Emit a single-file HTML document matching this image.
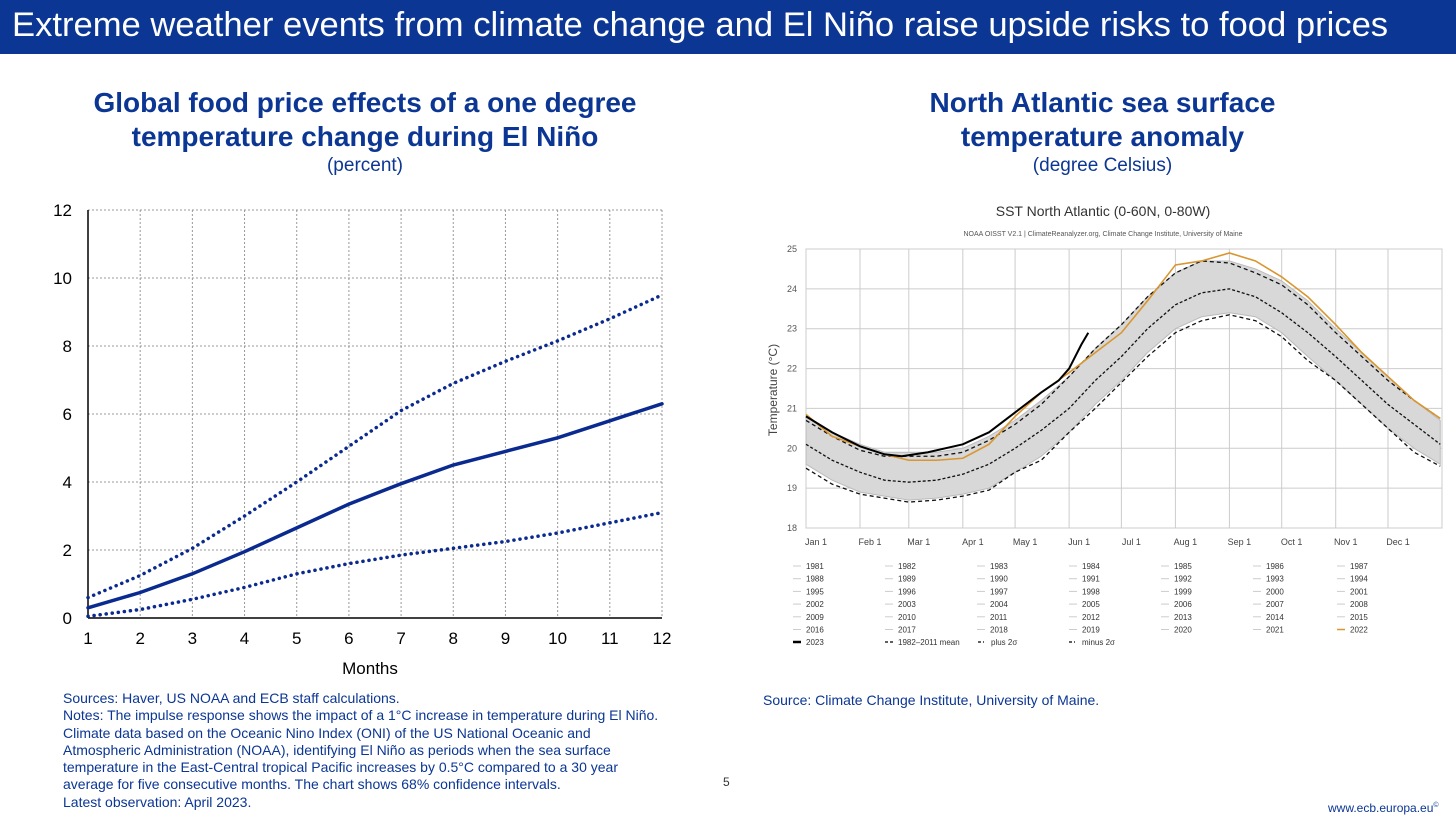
<!DOCTYPE html>
<html><head><meta charset="utf-8">
<style>
body{margin:0;width:1456px;height:820px;background:#fff;font-family:"Liberation Sans",sans-serif;position:relative;overflow:hidden}
.abs{position:absolute}
.hdr{left:0;top:0;width:1456px;height:54px;background:#0b3694;color:#fff;font-size:34.6px;line-height:50px;padding-left:12px;box-sizing:border-box;white-space:nowrap}
.t{color:#0b3694;text-align:center;font-weight:bold;font-size:28px;line-height:34px;white-space:nowrap}
.st{color:#0b3694;text-align:center;font-size:19px}
.note{color:#0b3694;font-size:14px;line-height:17.3px}
</style></head><body>
<div class="abs hdr">Extreme weather events from climate change and El Niño raise upside risks to food prices</div>
<div class="abs t" style="left:40px;top:86px;width:650px">Global food price effects of a one degree<br>temperature change during El Niño</div>
<div class="abs st" style="left:40px;top:155px;width:650px">(percent)</div>
<div class="abs t" style="left:850px;top:86px;width:505px">North Atlantic sea surface<br>temperature anomaly</div>
<div class="abs st" style="left:850px;top:155px;width:505px">(degree Celsius)</div>

<svg class="abs" style="left:0;top:0" width="1456" height="820" id="svg"></svg>

<div class="abs note" style="left:63px;top:690px">Sources: Haver, US NOAA and ECB staff calculations.<br>Notes: The impulse response shows the impact of a 1°C increase in temperature during El Niño.<br>Climate data based on the Oceanic Nino Index (ONI) of the US National Oceanic and<br>Atmospheric Administration (NOAA), identifying El Niño as periods when the sea surface<br>temperature in the East-Central tropical Pacific increases by 0.5°C compared to a 30 year<br>average for five consecutive months. The chart shows 68% confidence intervals.<br>Latest observation: April 2023.</div>
<div class="abs note" style="left:763px;top:692px">Source: Climate Change Institute, University of Maine.</div>
<div class="abs" style="left:723px;top:775px;font-size:12px;color:#333">5</div>
<div class="abs" style="left:1328px;top:801px;font-size:12px;color:#0b3694">www.ecb.europa.eu<sup style="font-size:7px">©</sup></div>

<script>
// Left chart data
const months=[1,2,3,4,5,6,7,8,9,10,11,12];
const central=[0.3,0.75,1.3,1.95,2.65,3.35,3.95,4.5,4.9,5.3,5.8,6.3];
const upper=[0.6,1.25,2.05,3.0,4.0,5.05,6.1,6.9,7.55,8.15,8.8,9.5];
const lower=[0.05,0.25,0.55,0.9,1.3,1.6,1.85,2.05,2.25,2.5,2.8,3.1];
const yTicksL=[0,2,4,6,8,10,12];
// Right chart data (day of year, °C)
const days=[0,15,31,45,59,75,90,105,120,135,151,166,181,196,212,227,243,258,273,288,304,319,334,349,364];
const mean=[20.1,19.7,19.4,19.2,19.15,19.2,19.35,19.6,20.0,20.45,21.0,21.7,22.3,23.0,23.6,23.9,24.0,23.8,23.4,22.9,22.3,21.7,21.1,20.6,20.1];
const plus2=[20.7,20.3,19.95,19.8,19.8,19.8,19.9,20.2,20.6,21.1,21.8,22.5,23.1,23.8,24.4,24.7,24.65,24.4,24.1,23.6,22.9,22.3,21.7,21.2,20.75];
const minus2=[19.5,19.1,18.85,18.75,18.65,18.7,18.8,18.95,19.4,19.7,20.4,21.0,21.65,22.3,22.9,23.2,23.35,23.2,22.8,22.2,21.7,21.1,20.5,19.9,19.55];
const bandHi=[20.8,20.4,20.1,19.9,19.9,19.9,20.0,20.3,20.7,21.2,21.8,22.5,23.1,23.8,24.4,24.7,24.7,24.5,24.2,23.7,23.0,22.4,21.8,21.2,20.7];
const bandLo=[19.6,19.2,18.9,18.8,18.7,18.75,18.85,19.0,19.4,19.8,20.4,21.1,21.7,22.4,23.0,23.3,23.4,23.3,22.9,22.3,21.7,21.1,20.5,20.0,19.6];
const y2022=[20.85,20.3,20.05,19.85,19.7,19.7,19.75,20.1,20.8,21.4,21.9,22.4,22.9,23.7,24.6,24.7,24.9,24.7,24.3,23.8,23.1,22.4,21.8,21.2,20.75];
const days2023=[0,15,31,45,55,70,90,105,120,135,145,151,158,162];
const y2023=[20.8,20.4,20.05,19.85,19.8,19.9,20.1,20.4,20.9,21.4,21.7,22.0,22.6,22.9];
const yTicksR=[18,19,20,21,22,23,24,25];
const monthLabels=["Jan 1","Feb 1","Mar 1","Apr 1","May 1","Jun 1","Jul 1","Aug 1","Sep 1","Oct 1","Nov 1","Dec 1"];
const monthDays=[0,31,59,90,120,151,181,212,243,273,304,334];

const NS="http://www.w3.org/2000/svg";
const svg=document.getElementById('svg');
function mk(tag,attrs,parent){const e=document.createElementNS(NS,tag);for(const k in attrs)e.setAttribute(k,attrs[k]);(parent||svg).appendChild(e);return e;}
// Left axes
const lx=m=>88+(m-1)*(662-88)/11, ly=v=>618-v*(618-210)/12;
for(const t of yTicksL){
  if(t>0){const g=mk('line',{x1:88,x2:662,y1:ly(t),y2:ly(t),stroke:'#999','stroke-dasharray':'2,2'});
  
  }
  const tx=mk('text',{x:72,y:ly(t)+6,'font-size':17,'text-anchor':'end',fill:'#000'});tx.textContent=t;
  
  
}
for(const m of months){
  if(m>1){const g=mk('line',{x1:lx(m),x2:lx(m),y1:210,y2:618,stroke:'#999','stroke-dasharray':'2,2'});
  
  }
  const tx=mk('text',{x:lx(m),y:644,'font-size':17,'text-anchor':'middle',fill:'#000'});tx.textContent=m;
  
  
}
let a=mk('line',{x1:88,x2:88,y1:210,y2:618,stroke:'#000','stroke-width':1.5});


a=mk('line',{x1:88,x2:662,y1:618,y2:618,stroke:'#000','stroke-width':1.5});


a=mk('text',{x:370,y:674,'font-size':17,'text-anchor':'middle'});a.textContent='Months';


function lineL(vals,dash,w,name){const p=mk('polyline',{points:vals.map((v,i)=>lx(months[i])+','+ly(v)).join(' '),fill:'none',stroke:'#0b2a8f','stroke-width':w,'stroke-dasharray':dash,'stroke-linecap':'round'});

}
lineL(upper,'0.1,6',3.5,'upper-bound-line');
lineL(lower,'0.1,6',3.5,'lower-bound-line');
lineL(central,'none',3.5,'central-estimate-line');

// Right chart
const rx=d=>806+d*(1442-806)/365, ry=v=>528-(v-18)*(528-249)/7;
a=mk('rect',{x:806,y:249,width:636,height:279,fill:'#fff',stroke:'#ccc'});


for(const t of yTicksR){
  const g=mk('line',{x1:806,x2:1442,y1:ry(t),y2:ry(t),stroke:'#ccc'});
  
  
  const tx=mk('text',{x:797,y:ry(t)+3,'font-size':9,'text-anchor':'end',fill:'#555'});tx.textContent=t;
  
  
}
monthDays.forEach((d,i)=>{
  const g=mk('line',{x1:rx(d),x2:rx(d),y1:249,y2:528,stroke:'#ccc'});
  
  
  const tx=mk('text',{x:rx(d)+10,y:545,'font-size':9,'text-anchor':'middle',fill:'#444'});tx.textContent=monthLabels[i];
  
  
});
a=mk('text',{x:0,y:0,'font-size':12,'text-anchor':'middle',fill:'#444',transform:'translate(777,390) rotate(-90)'});a.textContent='Temperature (°C)';


a=mk('text',{x:1103,y:216,'font-size':14,'text-anchor':'middle',fill:'#333'});a.textContent='SST North Atlantic (0-60N, 0-80W)';


a=mk('text',{x:1103,y:236,'font-size':7,'text-anchor':'middle',fill:'#555'});a.textContent='NOAA OISST V2.1 | ClimateReanalyzer.org, Climate Change Institute, University of Maine';


const bandPts=days.map((d,i)=>rx(d)+','+ry(bandHi[i])).concat(days.slice().reverse().map((d,j)=>rx(d)+','+ry(bandLo[days.length-1-j])));
a=mk('polygon',{points:bandPts.join(' '),fill:'#d8d8d8',stroke:'#bbb'});


function lineR(xs,vals,col,w,dash,name){const p=mk('polyline',{points:vals.map((v,i)=>rx(xs[i])+','+ry(v)).join(' '),fill:'none',stroke:col,'stroke-width':w,'stroke-dasharray':dash});

}
lineR(days,plus2,'#111',1.3,'4,3','plus-2-sigma-line');
lineR(days,minus2,'#111',1.3,'4,3','minus-2-sigma-line');
lineR(days,mean,'#111',1.3,'3,2','mean-1982-2011-line');
lineR(days,y2022,'#d9962f',1.6,'none','line-2022');
lineR(days2023,y2023,'#000',2,'none','line-2023');

// legend
const years=[];for(let y=1981;y<=2022;y++)years.push(y);
const legX=[793,885,977,1069,1161,1253,1337];
years.forEach((y,i)=>{const c=i%7,r=Math.floor(i/7);const x=legX[c],yy=566+r*12.7;
  const l=mk('line',{x1:x,x2:x+8,y1:yy,y2:yy,stroke:y===2022?'#d9962f':'#ccc','stroke-width':y===2022?1.5:1});
  
  
  const t=mk('text',{x:x+13,y:yy+3,'font-size':8,fill:'#333'});t.textContent=y;
  
  });
const extra=[['2023','none',2.5],['1982–2011 mean','3,2',1.3],['plus 2σ','3,2,1,2',1.3],['minus 2σ','3,2,1,2',1.3]];
const exX=[793,885,978,1069];
extra.forEach((e,i)=>{const x=exX[i],yy=642;
  const l=mk('line',{x1:x,x2:x+8,y1:yy,y2:yy,stroke:'#000','stroke-width':e[2],'stroke-dasharray':e[1]});
  
  
  const t=mk('text',{x:x+13,y:yy+3,'font-size':8,fill:'#333'});t.textContent=e[0];
  
  });
</script>
</body></html>
